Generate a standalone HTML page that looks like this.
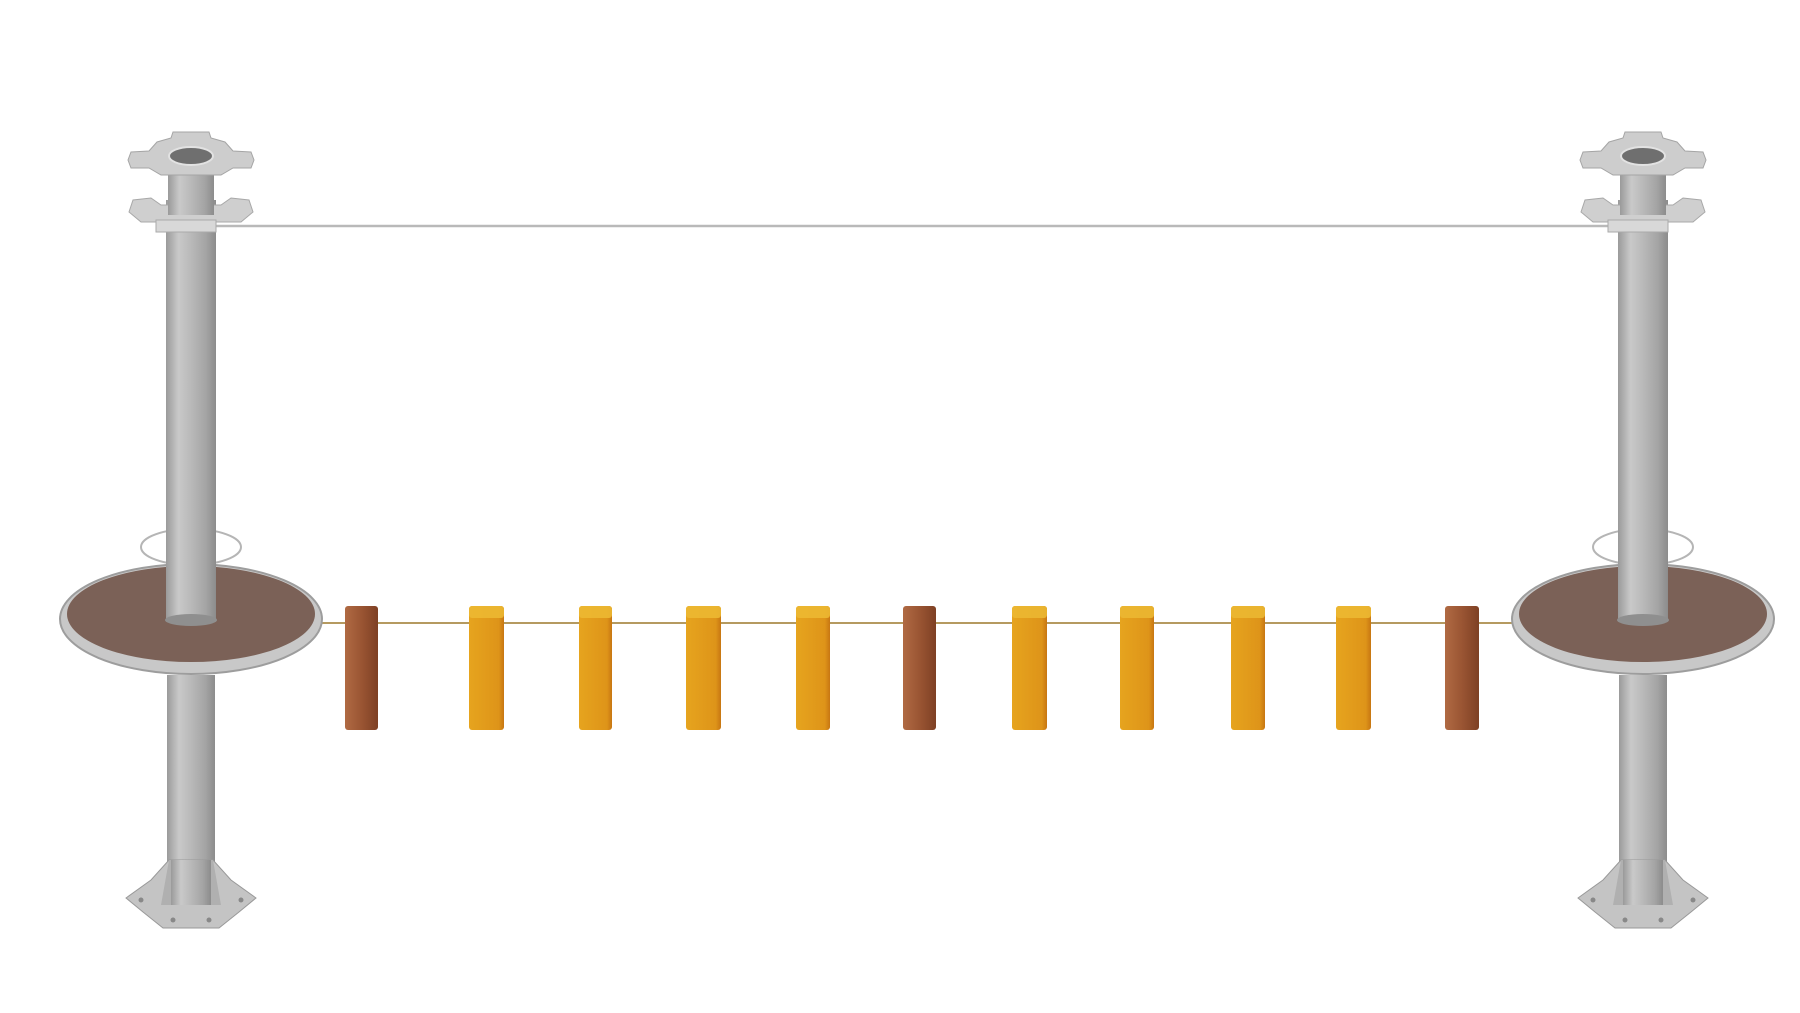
<!DOCTYPE html>
<html><head><meta charset="utf-8"><style>html,body{margin:0;padding:0;background:#fff}svg{display:block}</style></head>
<body>
<svg width="1800" height="1013" viewBox="0 0 1800 1013" xmlns="http://www.w3.org/2000/svg">
<defs>
<linearGradient id="steel" x1="0" x2="1" y1="0" y2="0">
<stop offset="0" stop-color="#9a9a9a"/><stop offset="0.25" stop-color="#c9c9c9"/><stop offset="0.5" stop-color="#b9b9b9"/><stop offset="0.8" stop-color="#a4a4a4"/><stop offset="1" stop-color="#8c8c8c"/>
</linearGradient>
<linearGradient id="yel" x1="0" x2="1"><stop offset="0" stop-color="#e6a41e"/><stop offset="0.85" stop-color="#de9419"/><stop offset="1" stop-color="#c77612"/></linearGradient>
<linearGradient id="brn" x1="0" x2="1"><stop offset="0" stop-color="#b06a43"/><stop offset="0.5" stop-color="#9a5533"/><stop offset="1" stop-color="#7e4024"/></linearGradient>
<g id="pole">
  <rect x="-24" y="675" width="48" height="200" fill="url(#steel)"/>
  <path d="M-65 898 L-40 880 L-22 860 L22 860 L40 880 L65 898 L48 912 L28 928 L-28 928 L-48 912 Z" fill="#c4c4c4" stroke="#999" stroke-width="1"/>
  <path d="M-22 860 L-30 905 L30 905 L22 860 Z" fill="#b0b0b0"/>
  <rect x="-20" y="860" width="40" height="45" fill="url(#steel)"/>
  <circle cx="-50" cy="900" r="2.5" fill="#888"/><circle cx="50" cy="900" r="2.5" fill="#888"/>
  <circle cx="-18" cy="920" r="2.5" fill="#888"/><circle cx="18" cy="920" r="2.5" fill="#888"/>
  <ellipse cx="0" cy="619" rx="131" ry="55" fill="#c8c8c8" stroke="#9d9d9d" stroke-width="2"/>
  <ellipse cx="0" cy="614" rx="124" ry="48" fill="#7b6157"/>
  <ellipse cx="0" cy="547" rx="50" ry="18" fill="none" stroke="#b5b5b5" stroke-width="2"/>
  <rect x="-25" y="200" width="50" height="420" fill="url(#steel)"/>
  <ellipse cx="0" cy="620" rx="26" ry="6" fill="#8f8f8f"/>
  <path d="M-62 212 L-58 200 L-40 198 L-30 205 L30 205 L40 198 L58 200 L62 212 L50 222 L-50 222 Z" fill="#cfcfcf" stroke="#a8a8a8"/>
  <rect x="-35" y="220" width="60" height="12" fill="#d8d8d8" stroke="#aaa"/>
  <rect x="-23" y="160" width="46" height="55" fill="url(#steel)"/>
  <path d="M-63 160 L-60 152 L-42 151 L-34 142 L-20 138 L-18 132 L18 132 L20 138 L34 142 L42 151 L60 152 L63 160 L60 168 L42 168 L30 175 L-30 175 L-42 168 L-60 168 Z" fill="#cdcdcd" stroke="#a5a5a5"/>
  <ellipse cx="0" cy="156" rx="22" ry="9" fill="#6f6f6f" stroke="#e2e2e2" stroke-width="2"/>
</g>
</defs>
<line x1="213" y1="226" x2="1620" y2="226" stroke="#b9b9b9" stroke-width="2.5"/>
<line x1="320" y1="623" x2="1515" y2="623" stroke="#b59a60" stroke-width="2"/>
<use href="#pole" transform="translate(191,0)"/>
<use href="#pole" transform="translate(1643,0)"/>
<g>
<rect x="345" y="606" width="33" height="124" rx="3" fill="url(#brn)"/>
<rect x="469" y="606" width="35" height="124" rx="3" fill="url(#yel)"/>
<rect x="579" y="606" width="33" height="124" rx="3" fill="url(#yel)"/>
<rect x="686" y="606" width="35" height="124" rx="3" fill="url(#yel)"/>
<rect x="796" y="606" width="34" height="124" rx="3" fill="url(#yel)"/>
<rect x="903" y="606" width="33" height="124" rx="3" fill="url(#brn)"/>
<rect x="1012" y="606" width="35" height="124" rx="3" fill="url(#yel)"/>
<rect x="1120" y="606" width="34" height="124" rx="3" fill="url(#yel)"/>
<rect x="1231" y="606" width="34" height="124" rx="3" fill="url(#yel)"/>
<rect x="1336" y="606" width="35" height="124" rx="3" fill="url(#yel)"/>
<rect x="1445" y="606" width="34" height="124" rx="3" fill="url(#brn)"/>
</g>
<g fill="#ecb832" opacity="0.9">
<rect x="469" y="606" width="35" height="12" rx="3"/><rect x="579" y="606" width="33" height="12" rx="3"/>
<rect x="686" y="606" width="35" height="12" rx="3"/><rect x="796" y="606" width="34" height="12" rx="3"/>
<rect x="1012" y="606" width="35" height="12" rx="3"/><rect x="1120" y="606" width="34" height="12" rx="3"/>
<rect x="1231" y="606" width="34" height="12" rx="3"/><rect x="1336" y="606" width="35" height="12" rx="3"/>
</g>
</svg>
</body></html>
